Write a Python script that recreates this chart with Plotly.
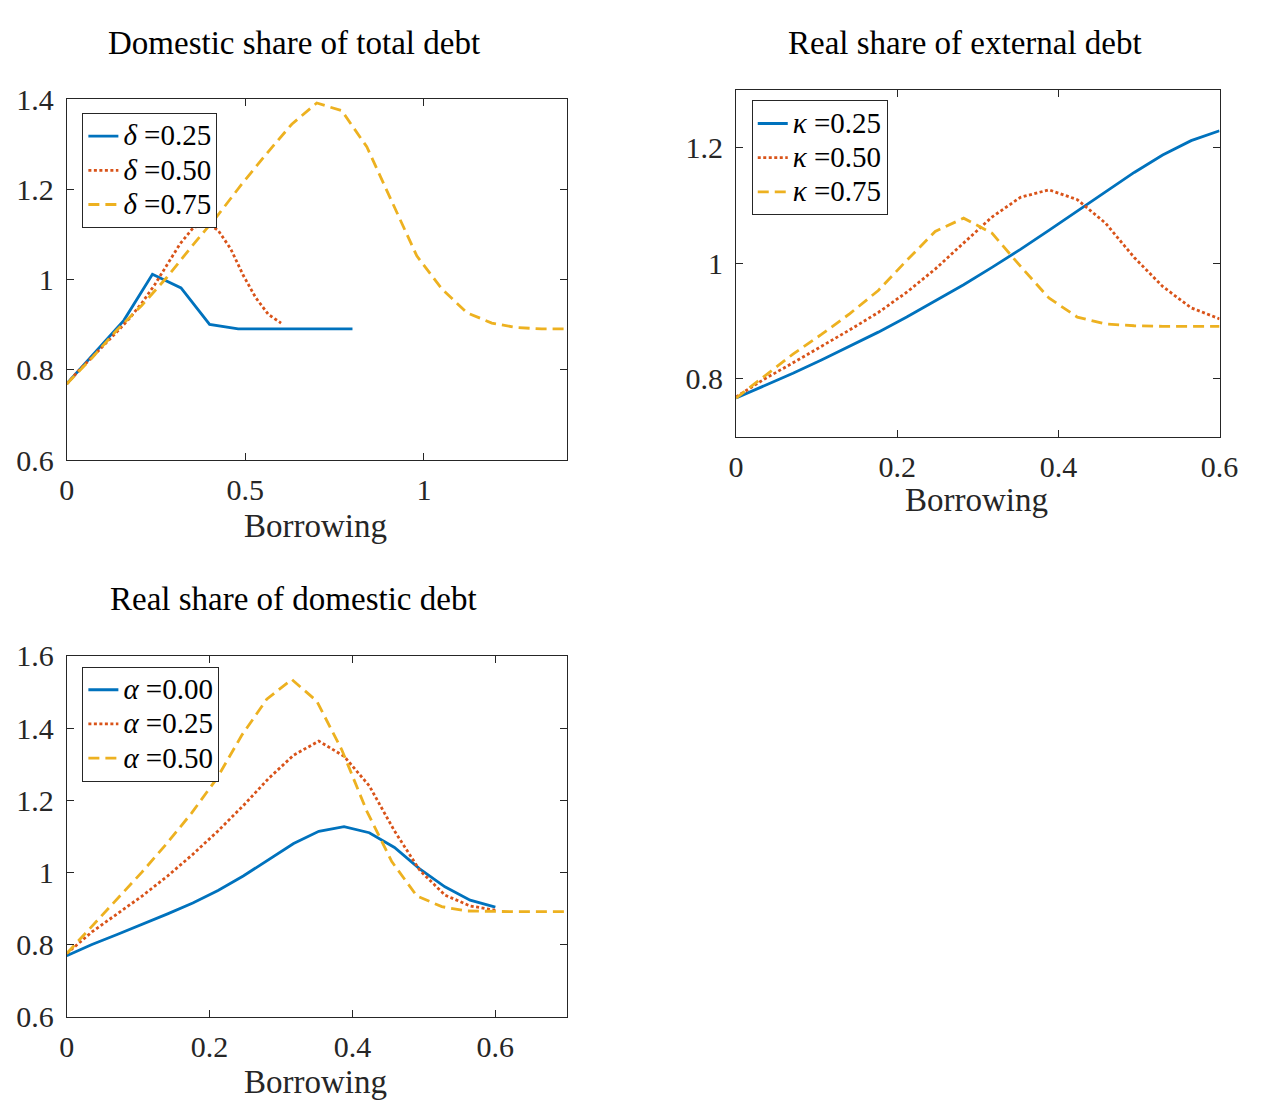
import plotly.graph_objects as go

# ---------------- data ----------------
# common grid for the smooth curves: 18 points from 0 to 0.6
grid_06 = [0.0, 0.0353, 0.0706, 0.1059, 0.1412, 0.1765, 0.2118, 0.2471, 0.2824,
           0.3176, 0.3529, 0.3882, 0.4235, 0.4588, 0.4941, 0.5294, 0.5647, 0.6]

# Panel 1: Domestic share of total debt
delta_025_x = [0.0, 0.08, 0.16, 0.24, 0.32, 0.40, 0.48, 0.56, 0.64, 0.72, 0.80]
delta_025_y = [0.769, 0.839, 0.910, 1.012, 0.982, 0.901, 0.891, 0.891, 0.891, 0.891, 0.891]

delta_050_x = grid_06
delta_050_y = [0.769, 0.800, 0.828, 0.856, 0.885, 0.915, 0.950, 0.990, 1.035,
               1.080, 1.114, 1.127, 1.110, 1.069, 1.010, 0.960, 0.923, 0.904]

delta_075_x = [0.0, 0.07, 0.14, 0.21, 0.28, 0.35, 0.42, 0.49, 0.56, 0.63, 0.70,
               0.77, 0.84, 0.91, 0.98, 1.05, 1.12, 1.19, 1.26, 1.33, 1.40]
delta_075_y = [0.769, 0.826, 0.888, 0.943, 1.005, 1.074, 1.140, 1.212, 1.280, 1.345, 1.392,
               1.375, 1.295, 1.172, 1.053, 0.980, 0.927, 0.904, 0.894, 0.891, 0.891]

# Panel 2: Real share of external debt
kappa_025_x = grid_06
kappa_025_y = [0.767, 0.788, 0.810, 0.833, 0.857, 0.881, 0.907, 0.935, 0.963,
               0.993, 1.024, 1.057, 1.090, 1.123, 1.157, 1.187, 1.212, 1.229]
kappa_050_x = grid_06
kappa_050_y = [0.769, 0.800, 0.828, 0.856, 0.885, 0.915, 0.950, 0.990, 1.035,
               1.080, 1.114, 1.127, 1.110, 1.069, 1.010, 0.960, 0.923, 0.904]
kappa_075_x = grid_06
kappa_075_y = [0.767, 0.805, 0.843, 0.877, 0.913, 0.953, 1.005, 1.055, 1.078,
               1.052, 0.995, 0.940, 0.907, 0.895, 0.892, 0.891, 0.891, 0.891]

# Panel 3: Real share of domestic debt
alpha_000_x = grid_06
alpha_000_y = [0.769, 0.800, 0.828, 0.856, 0.885, 0.915, 0.950, 0.990, 1.035,
               1.080, 1.114, 1.127, 1.110, 1.069, 1.010, 0.960, 0.923, 0.904]
alpha_025_x = grid_06
alpha_025_y = [0.775, 0.835, 0.885, 0.935, 0.990, 1.050, 1.115, 1.185, 1.260,
               1.325, 1.364, 1.322, 1.240, 1.115, 1.006, 0.937, 0.907, 0.895]
alpha_050_x = [0.0, 0.035, 0.07, 0.105, 0.14, 0.175, 0.21, 0.245, 0.28, 0.315, 0.35,
               0.385, 0.42, 0.455, 0.49, 0.525, 0.56, 0.595, 0.63, 0.665, 0.70]
alpha_050_y = [0.775, 0.850, 0.925, 1.000, 1.080, 1.165, 1.260, 1.380, 1.480, 1.535, 1.475,
               1.340, 1.170, 1.030, 0.935, 0.905, 0.893, 0.891, 0.891, 0.891, 0.891]

titles = ["Domestic share of total debt", "Real share of external debt", "Real share of domestic debt"]
xlabel = "Borrowing"

# ---------------- styling ----------------
W, H = 1263, 1119
FONT = "Liberation Serif"
AX = "#262626"
C_BLUE, C_RED, C_YEL = "#0072BD", "#D95319", "#EDB120"
LW = 2.8
STYLES = [dict(color=C_BLUE, width=LW, dash="solid"),
          dict(color=C_RED, width=LW, dash="3px,2.5px"),
          dict(color=C_YEL, width=LW, dash="11px,6px")]


def px_x(a, b):
    return [a / W, b / W]


def px_y(top, bottom):
    return [1 - bottom / H, 1 - top / H]


fig = go.Figure()

panels = [
    ("x", "y", "legend", "δ", [("0.25", delta_025_x, delta_025_y),
                               ("0.50", delta_050_x, delta_050_y),
                               ("0.75", delta_075_x, delta_075_y)]),
    ("x2", "y2", "legend2", "κ", [("0.25", kappa_025_x, kappa_025_y),
                                  ("0.50", kappa_050_x, kappa_050_y),
                                  ("0.75", kappa_075_x, kappa_075_y)]),
    ("x3", "y3", "legend3", "α", [("0.00", alpha_000_x, alpha_000_y),
                                  ("0.25", alpha_025_x, alpha_025_y),
                                  ("0.50", alpha_050_x, alpha_050_y)]),
]

for xa, ya, lg, sym, series in panels:
    for (val, xs, ys), st in zip(series, STYLES):
        fig.add_trace(go.Scatter(
            x=xs, y=ys, mode="lines", xaxis=xa, yaxis=ya, legend=lg,
            name=f'<span style="font-size:29px"><i>{sym}</i> =' + val + "</span>",
            line=st))

tickfont = dict(family=FONT, size=30, color=AX)
common = dict(showline=True, linecolor=AX, linewidth=1, mirror="ticks", ticks="inside",
              ticklen=7, tickcolor=AX, tickwidth=1, showgrid=False, zeroline=False,
              tickfont=tickfont, fixedrange=True)

fig.update_layout(
    width=W, height=H, margin=dict(l=0, r=0, t=0, b=0),
    paper_bgcolor="white", plot_bgcolor="white",
    xaxis=dict(domain=px_x(60, 571), range=[0, 1.4], anchor="y", ticklabelstandoff=3,
               tickvals=[0, 0.5, 1], ticktext=["0", "0.5", "1"], **common),
    yaxis=dict(domain=px_y(85, 457), range=[0.6, 1.4], anchor="x", ticklabelstandoff=6,
               tickvals=[0.6, 0.8, 1, 1.2, 1.4], ticktext=["0.6", "0.8", "1", "1.2", "1.4"], **common),
    xaxis2=dict(domain=px_x(744, 1238), range=[0, 0.6], anchor="y2", ticklabelstandoff=3,
                tickvals=[0, 0.2, 0.4, 0.6], ticktext=["0", "0.2", "0.4", "0.6"], **common),
    yaxis2=dict(domain=px_y(75, 433), range=[0.7, 1.3], anchor="x2", ticklabelstandoff=6,
                tickvals=[0.8, 1, 1.2], ticktext=["0.8", "1", "1.2"], **common),
    xaxis3=dict(domain=px_x(60, 571), range=[0, 0.7], anchor="y3", ticklabelstandoff=3,
                tickvals=[0, 0.2, 0.4, 0.6], ticktext=["0", "0.2", "0.4", "0.6"], **common),
    yaxis3=dict(domain=px_y(659, 1031), range=[0.6, 1.6], anchor="x3", ticklabelstandoff=6,
                tickvals=[0.6, 0.8, 1, 1.2, 1.4, 1.6],
                ticktext=["0.6", "0.8", "1", "1.2", "1.4", "1.6"], **common),
    showlegend=True,
)

leg_common = dict(bgcolor="white", bordercolor=AX, borderwidth=1,
                  font=dict(family=FONT, size=24, color="black"),
                  xanchor="left", yanchor="top", tracegroupgap=0, itemwidth=30)
fig.update_layout(
    legend=dict(x=76 / W, y=1 - 99 / H, **leg_common),
    legend2=dict(x=760 / W, y=1 - 86 / H, **leg_common),
    legend3=dict(x=76 / W, y=1 - 670 / H, **leg_common),
)

title_font = dict(family=FONT, size=33, color="black")
label_font = dict(family=FONT, size=33, color=AX)
anns = [
    (titles[0], 292, 27, title_font), (titles[1], 978, 27, title_font),
    (titles[2], 292, 600, title_font),
    (xlabel, 314, 525, label_font), (xlabel, 990, 498, label_font),
    (xlabel, 314, 1098, label_font),
]
for text, cx, cy, f in anns:
    fig.add_annotation(text=text, x=cx / W, y=1 - cy / H, xref="paper", yref="paper",
                       xanchor="center", yanchor="middle", showarrow=False, font=f)

fig.write_html("out.html")
